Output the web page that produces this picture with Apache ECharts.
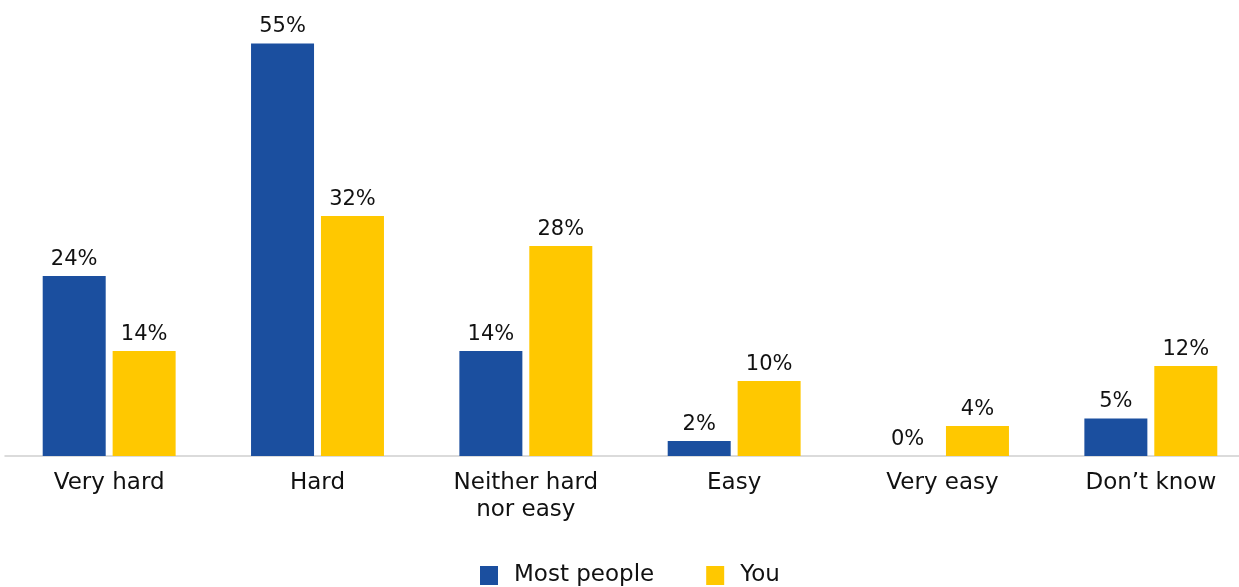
<!DOCTYPE html>
<html><head><meta charset="utf-8">
<script src="https://cdn.jsdelivr.net/npm/echarts@6/dist/echarts.min.js"></script>
<style>html,body{margin:0;padding:0;background:#fff}#c{width:1239px;height:587px}</style>
</head><body><div id="c"></div>
<script>
const categories = ['Very hard', 'Hard', 'Neither hard\nnor easy', 'Easy', 'Very easy', 'Don\u2019t know'];
const mostPeople = [24, 55, 14, 2, 0, 5];
const you = [14, 32, 28, 10, 4, 12];
const seriesNames = ['Most people', 'You'];

const font = 'DejaVu Sans';
const chart = echarts.init(document.getElementById('c'));
chart.setOption({
  animation: false,
  textStyle: { fontFamily: font },
  grid: { left: 5, right: -16, top: 6, bottom: 131, outerBoundsMode: 'none', containLabel: false },
  legend: {
    top: 564, left: 480, itemWidth: 18, itemHeight: 19, itemGap: 52, padding: 0,
    icon: 'rect',
    textStyle: { fontFamily: font, fontSize: 23, color: '#111', padding: [0, 0, 0, 11], lineHeight: 20 },
    data: seriesNames
  },
  xAxis: {
    type: 'category', data: categories,
    axisLine: { lineStyle: { color: '#cfcfcf', width: 1.5 } },
    axisTick: { show: false },
    axisLabel: { fontFamily: font, fontSize: 23, color: '#111', margin: 14, lineHeight: 27, interval: 0 }
  },
  yAxis: { type: 'value', min: 0, max: 60, show: false, splitLine: { show: false } },
  series: [
    { name: seriesNames[0], type: 'bar', data: mostPeople, barWidth: 63, barGap: '11%',
      itemStyle: { color: '#1b4f9f' },
      label: { show: true, position: 'top', distance: 6, formatter: '{c}%', fontFamily: font, fontSize: 21, color: '#111' } },
    { name: seriesNames[1], type: 'bar', data: you, barWidth: 63,
      itemStyle: { color: '#ffc800' },
      label: { show: true, position: 'top', distance: 6, formatter: '{c}%', fontFamily: font, fontSize: 21, color: '#111' } }
  ]
});
</script></body></html>
